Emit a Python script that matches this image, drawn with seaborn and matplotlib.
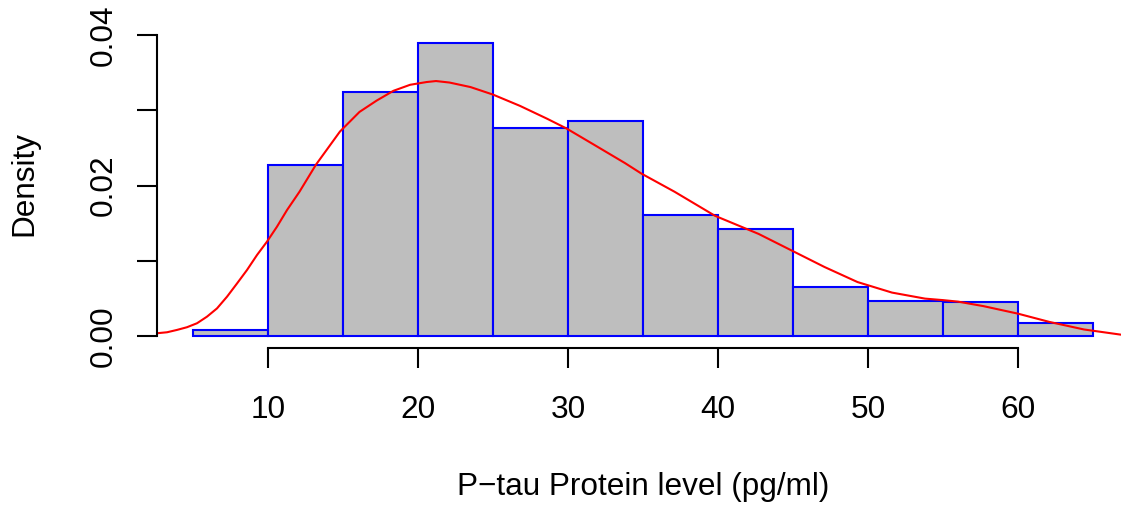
import matplotlib
matplotlib.use("Agg")
import matplotlib.pyplot as plt
import seaborn as sns

# ---- data ----
bin_edges = [5, 10, 15, 20, 25, 30, 35, 40, 45, 50, 55, 60, 65]
bar_density = [0.00078, 0.0228, 0.0324, 0.0390, 0.0276, 0.0286,
               0.0161, 0.01425, 0.00655, 0.00469, 0.0046, 0.00177]

curve_x = [2.6, 3.27, 3.93, 4.6, 5.27, 5.93, 6.6, 7.27, 7.93, 8.6, 9.27, 9.93,
           10.6, 11.27, 12.1, 13.2, 14.8, 15.0, 16.1, 17.24, 18.36, 19.47,
           20.58, 21.2, 22.1, 23.5, 25.0, 26.8, 28.6, 29.9, 31.6, 33.8, 34.9,
           37.1, 39.8, 42.7, 44.9, 47.1, 49.3, 51.6, 53.8, 55.0, 56.0, 57.7,
           60.0, 62.1, 64.4, 66.9]
curve_y = [0.0004, 0.00053, 0.00084, 0.0012, 0.00173, 0.0026, 0.0037, 0.00526,
           0.0070, 0.0088, 0.0108, 0.01256, 0.01456, 0.01677, 0.0192, 0.0228,
           0.0272, 0.0276, 0.0298, 0.0313, 0.0326, 0.0334, 0.03377, 0.0339,
           0.0337, 0.0331, 0.0321, 0.0306, 0.0289, 0.0276, 0.0256, 0.0230,
           0.0216, 0.0192, 0.0160, 0.0136, 0.0114, 0.0092, 0.0072, 0.0058,
           0.0050, 0.0048, 0.0046, 0.0040, 0.0030, 0.0019, 0.0009, 0.0002]

x_ticks = [10, 20, 30, 40, 50, 60]
y_ticks = [0.00, 0.01, 0.02, 0.03, 0.04]
y_tick_labels = ["0.00", "", "0.02", "", "0.04"]
x_label = "P\u2212tau Protein level (pg/ml)"
y_label = "Density"

# ---- style ----
sns.set_style("white")
plt.rcParams["font.family"] = ["Liberation Sans", "DejaVu Sans"]
plt.rcParams["text.color"] = "black"
plt.rcParams["axes.labelcolor"] = "black"
plt.rcParams["xtick.color"] = "black"
plt.rcParams["ytick.color"] = "black"

FS = 22.7
W, H = 1121, 508
fig = plt.figure(figsize=(W / 100, H / 100), dpi=100)

left_px, right_px = 157, 1129
top_px, bot_px = 30.6, 348.3
ax = fig.add_axes([left_px / W, (H - bot_px) / H,
                   (right_px - left_px) / W, (bot_px - top_px) / H])

mids = [(a + b) / 2 for a, b in zip(bin_edges[:-1], bin_edges[1:])]
sns.histplot(x=mids, weights=bar_density, bins=bin_edges, stat="count",
             color="#BEBEBE", edgecolor="#0000FF", linewidth=1.5, alpha=1,
             ax=ax)
sns.lineplot(x=curve_x, y=curve_y, color="#FF0000", linewidth=1.5, ax=ax,
             sort=False)

ax.set_xlim(2.6, 67.4)
ax.set_ylim(-0.0016, 0.0406)

for s in ["top", "right"]:
    ax.spines[s].set_visible(False)
for s in ["left", "bottom"]:
    ax.spines[s].set_color("black")
    ax.spines[s].set_linewidth(1.5)
ax.spines["left"].set_bounds(0, 0.04)
ax.spines["bottom"].set_bounds(10, 60)

ax.set_xticks(x_ticks)
ax.set_xticklabels([str(v) for v in x_ticks], fontsize=FS)
ax.set_yticks(y_ticks)
ax.set_yticklabels(y_tick_labels, fontsize=FS, rotation=90, va="center")
ax.tick_params(axis="both", direction="out", length=14.4, width=1.5,
               bottom=True, left=True)
ax.tick_params(axis="x", pad=19.5)
ax.tick_params(axis="y", pad=13)

ax.set_xlabel(x_label, fontsize=FS)
ax.set_ylabel(y_label, fontsize=FS)
ax.xaxis.set_label_coords(0.5, (bot_px - 487) / (bot_px - top_px))
ax.xaxis.label.set_va("center")
ax.yaxis.set_label_coords((24 - left_px) / (right_px - left_px),
                          (bot_px - 184) / (bot_px - top_px))
ax.yaxis.label.set_va("center")

fig.savefig("out.png", dpi=100)
